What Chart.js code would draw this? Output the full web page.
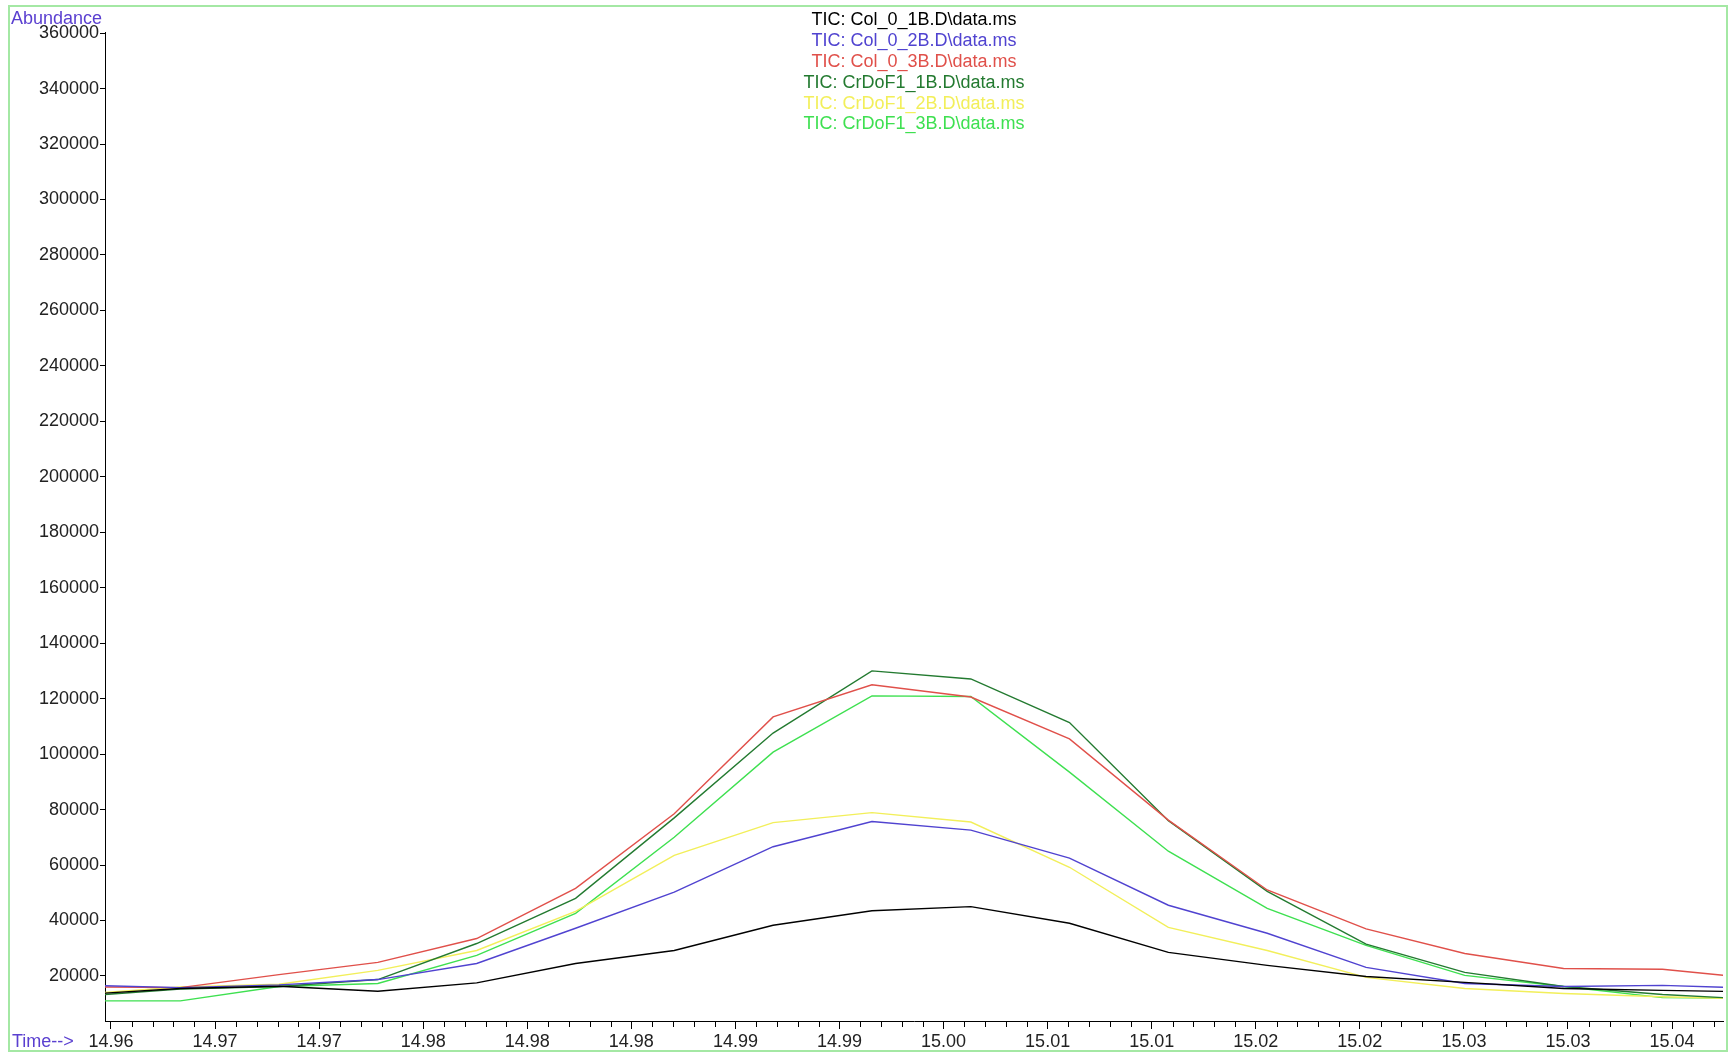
<!DOCTYPE html>
<html>
<head>
<meta charset="utf-8">
<title>TIC overlay 14.96 - 15.04 min</title>
<script src="https://cdn.jsdelivr.net/npm/chart.js@4.4.1/dist/chart.umd.min.js"></script>
<style>
  html, body { margin: 0; padding: 0; background: #ffffff; }
  #tic { display: block; width: 1728px; height: 1054px; }
</style>
</head>
<body>
<canvas id="tic" width="1728" height="1054"></canvas>
<script>
// retention times of the scans (min)
const scanTimes = [14.95858, 14.96333, 14.96807, 14.97282, 14.97757, 14.98232, 14.98706, 14.99181, 14.99656,
                   15.00131, 15.00605, 15.01080, 15.01555, 15.02030, 15.02504, 15.02979, 15.03454, 15.03928];

// abundance per scan, one array per file
const col0_1B   = [13300, 15500, 16300, 14500, 17500, 24500, 29200, 38300, 43500, 45000, 39000, 28500, 23800, 19800, 17700, 15500, 14800, 14200];
const col0_2B   = [16700, 15800, 16800, 18700, 24500, 37200, 50200, 66600, 75700, 72600, 62500, 45500, 35400, 23100, 17300, 16200, 16600, 15500];
const col0_3B   = [16100, 15800, 20500, 24900, 33500, 51600, 78500, 113400, 125000, 120600, 105500, 76200, 51000, 37000, 28100, 22700, 22400, 18900];
const crDoF1_1B = [12700, 15300, 16200, 18700, 31700, 48000, 77000, 107600, 130000, 127100, 111400, 76000, 50500, 31500, 21300, 16200, 13300, 11500];
const crDoF1_2B = [13400, 16000, 17000, 22000, 29200, 43300, 63500, 75300, 78900, 75500, 59200, 37500, 29200, 19500, 15500, 13700, 12500, 11600];
const crDoF1_3B = [11000, 11000, 16200, 17300, 27400, 42600, 70000, 100700, 121000, 120800, 93500, 65000, 44400, 31000, 20200, 16200, 12200, 12000];

const fileNames = ['TIC: Col_0_1B.D\\data.ms', 'TIC: Col_0_2B.D\\data.ms', 'TIC: Col_0_3B.D\\data.ms',
                   'TIC: CrDoF1_1B.D\\data.ms', 'TIC: CrDoF1_2B.D\\data.ms', 'TIC: CrDoF1_3B.D\\data.ms'];
const traceColors = ['#000000', '#5043d0', '#e0504a', '#237a30', '#f2ef5a', '#3ee050'];

// axis ticks
const xTickValues = [14.960, 14.965, 14.970, 14.975, 14.980, 14.985, 14.990, 14.995,
                     15.000, 15.005, 15.010, 15.015, 15.020, 15.025, 15.030, 15.035];
const xTickLabels = ['14.96', '14.97', '14.97', '14.98', '14.98', '14.98', '14.99', '14.99',
                     '15.00', '15.01', '15.01', '15.02', '15.02', '15.03', '15.03', '15.04'];
const yTickValues = [20000, 40000, 60000, 80000, 100000, 120000, 140000, 160000, 180000,
                     200000, 220000, 240000, 260000, 280000, 300000, 320000, 340000, 360000];

const FONT = '"Liberation Sans", Arial, sans-serif';

function toPoints(values) {
  return values.map((v, i) => ({ x: scanTimes[i], y: v }));
}

const series = [col0_1B, col0_2B, col0_3B, crDoF1_1B, crDoF1_2B, crDoF1_3B];
const datasets = series.map((s, i) => ({
  label: fileNames[i],
  data: toPoints(s),
  borderColor: traceColors[i],
  backgroundColor: traceColors[i],
  borderWidth: 1.4,
  pointRadius: 0,
  tension: 0,
  fill: false
}));

// titles, file list, minor ticks and the green frame
const decorations = {
  id: 'decorations',
  afterDraw(chart) {
    const c = chart.ctx;
    const area = chart.chartArea;
    const xs = chart.scales.x;
    c.save();

    // minor ticks, 5 per major step
    const step = xTickValues[1] - xTickValues[0];
    c.strokeStyle = '#000';
    c.lineWidth = 1;
    c.beginPath();
    for (let i = -1; i < xTickValues.length; i++) {
      for (let m = 1; m < 5; m++) {
        const v = xTickValues[0] + (i + m / 5) * step;
        if (v < xs.min || v > xs.max) continue;
        const px = Math.round(xs.getPixelForValue(v)) + 0.5;
        c.moveTo(px, area.bottom);
        c.lineTo(px, area.bottom + 6);
      }
    }
    c.stroke();

    // file list, coloured like its trace
    c.font = '18px ' + FONT;
    c.textAlign = 'center';
    c.textBaseline = 'middle';
    const cx = (area.left + area.right) / 2;
    chart.data.datasets.forEach((ds, i) => {
      c.fillStyle = ds.borderColor;
      c.fillText(ds.label, cx, 20.5 + i * 20.8);
    });

    // axis titles
    c.textAlign = 'left';
    c.fillStyle = '#5a3fd0';
    c.fillText('Abundance', 11, 19.5);
    c.fillText('Time-->', 12, 1042);

    // frame
    c.strokeStyle = '#a4e8a4';
    c.lineWidth = 2;
    c.strokeRect(9, 6, 1718, 1045);
    c.restore();
  }
};

const ctx = document.getElementById('tic').getContext('2d');
new Chart(ctx, {
  type: 'line',
  data: { datasets: datasets },
  options: {
    responsive: false,
    animation: false,
    devicePixelRatio: 1,
    layout: { padding: { top: 32, right: 5, left: 0, bottom: 0 } },
    plugins: { legend: { display: false }, tooltip: { enabled: false } },
    scales: {
      x: {
        type: 'linear',
        min: 14.959712,
        max: 15.037448,
        afterBuildTicks: (scale) => { scale.ticks = xTickValues.map(v => ({ value: v })); },
        afterFit: (scale) => { scale.height = 33; },
        ticks: {
          autoSkip: false,
          maxRotation: 0,
          padding: 2,
          color: '#222',
          font: { family: FONT, size: 18 },
          callback: (v, i) => xTickLabels[i]
        },
        grid: { drawOnChartArea: false, drawTicks: true, tickLength: 8, color: '#000', lineWidth: 1 },
        border: { display: true, color: '#000', width: 1 }
      },
      y: {
        type: 'linear',
        min: 3760,
        max: 360400,
        afterBuildTicks: (scale) => { scale.ticks = yTickValues.map(v => ({ value: v })); },
        afterFit: (scale) => { scale.width = 105; },
        ticks: {
          padding: 1,
          color: '#222',
          font: { family: FONT, size: 18 },
          callback: (v) => String(v)
        },
        grid: { drawOnChartArea: false, drawTicks: true, tickLength: 5, color: '#000', lineWidth: 1 },
        border: { display: true, color: '#000', width: 1 }
      }
    }
  },
  plugins: [decorations]
});
</script>
</body>
</html>
